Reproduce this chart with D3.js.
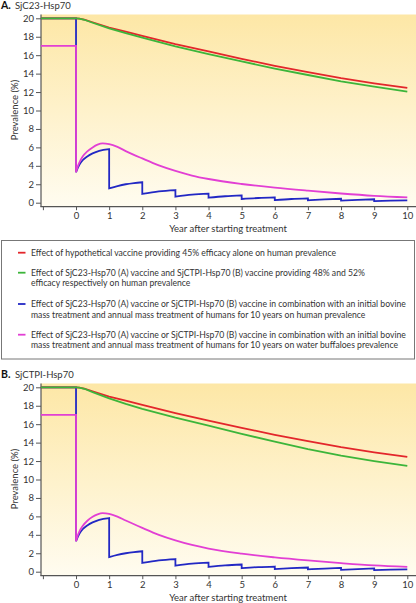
<!DOCTYPE html>
<html><head><meta charset="utf-8">
<script src="https://cdn.jsdelivr.net/npm/d3@7"></script>
<style>
body{margin:0;background:#fff;}
svg{display:block;font-family:Lato,"Open Sans",sans-serif;}
</style></head><body>
<svg id="c" width="416" height="603"></svg>
<script>
// ---------- data ----------
const xTicks = [-1,0,1,2,3,4,5,6,7,8,9,10];
const xTickLabels = ["","0","1","2","3","4","5","6","7","8","9","10"];
const yTicks = [0,2,4,6,8,10,12,14,16,18,20];

const smoothT = [-1.06,0,0.1,0.25,0.5,1,1.5,2,3,4,5,6,7,8,9,10];
const redA   = [20,20,19.97,19.86,19.57,19.0,18.55,18.1,17.2,16.4,15.6,14.85,14.15,13.5,12.95,12.45];
const greenA = [20,20,19.97,19.84,19.52,18.9,18.4,17.9,16.95,16.12,15.32,14.55,13.85,13.15,12.6,12.05];
const redB   = [20,20,19.97,19.86,19.57,19.0,18.55,18.1,17.2,16.38,15.6,14.85,14.15,13.5,12.95,12.46];
const greenB = [20,20,19.97,19.84,19.47,18.8,18.2,17.65,16.7,15.85,14.95,14.1,13.3,12.6,12.0,11.48];

const blueT = [-1.06,0, 0,0.05,0.1,0.2,0.35,0.5,0.7,1, 1,1.25,1.5,1.75,2, 2,2.5,3, 3,3.5,4, 4,4.5,5, 5,5.5,6, 6,6.5,7, 7,7.5,8, 8,8.5,9, 9,9.5,10];
const blueA = [20,20, 3.3,3.75,4.1,4.6,5.05,5.35,5.62,5.8, 1.55,1.8,2.0,2.13,2.22, 0.95,1.22,1.37, 0.66,0.87,0.98, 0.54,0.7,0.8, 0.4,0.51,0.58, 0.29,0.4,0.47, 0.26,0.36,0.43, 0.22,0.31,0.37, 0.18,0.23,0.26];
const blueB = [20,20, 3.3,3.75,4.1,4.6,5.05,5.35,5.63,5.82, 1.58,1.82,2.0,2.13,2.22, 0.95,1.22,1.37, 0.66,0.87,0.98, 0.52,0.68,0.78, 0.38,0.5,0.56, 0.28,0.38,0.45, 0.25,0.34,0.41, 0.2,0.29,0.35, 0.17,0.22,0.25];

const magT  = [-1.06,0, 0,0.05,0.1,0.2,0.35,0.5,0.65,0.8,1,1.25,1.5,2,2.5,3,3.5,4,5,6,7,8,9,10];
const magA  = [17,17, 3.3,3.9,4.35,5.0,5.6,6.0,6.3,6.43,6.35,6.05,5.6,4.8,4.05,3.45,2.95,2.57,2.03,1.63,1.3,1.0,0.75,0.58];
const magB  = [17,17, 3.3,3.9,4.35,4.95,5.55,5.95,6.22,6.35,6.28,5.98,5.55,4.75,4.0,3.4,2.9,2.5,1.95,1.55,1.22,0.93,0.68,0.52];

const colors = {red:"#e3262b", green:"#3cb53a", blue:"#2228c4", magenta:"#e23fd4"};

const legendItems = [
  {c:"red", lines:["Effect of hypothetical vaccine providing 45% efficacy alone on human prevalence"]},
  {c:"green", lines:["Effect of SjC23-Hsp70 (A) vaccine and SjCTPI-Hsp70 (B) vaccine providing 48% and 52%","efficacy respectively on human prevalence"]},
  {c:"blue", lines:["Effect of SjC23-Hsp70 (A) vaccine or SjCTPI-Hsp70 (B) vaccine in combination with an initial bovine","mass treatment and annual mass treatment of humans for 10 years on human prevalence"]},
  {c:"magenta", lines:["Effect of SjC23-Hsp70 (A) vaccine or SjCTPI-Hsp70 (B) vaccine in combination with an initial bovine","mass treatment and annual mass treatment of humans for 10 years on water buffaloes prevalence"]}
];

const panels = [
  {letter:"A.", title:"SjC23-Hsp70", off:0, red:redA, green:greenA, blue:blueA, mag:magA},
  {letter:"B.", title:"SjCTPI-Hsp70", off:369, red:redB, green:greenB, blue:blueB, mag:magB}
];

// ---------- drawing ----------
const svg = d3.select("#c");
const defs = svg.append("defs");
const grad = defs.append("linearGradient").attr("id","bg").attr("x1",0).attr("y1",0).attr("x2",0).attr("y2",1);
grad.append("stop").attr("offset","0%").attr("stop-color","#fde7a6");
grad.append("stop").attr("offset","100%").attr("stop-color","#fffcf0");

const x = d3.scaleLinear().domain([-1,10]).range([42.9,407.3]);
const axisColor = "#555";
const textColor = "#333";

function segPath(ts, vs, y){
  const segs=[]; let cur=[];
  ts.forEach((t,i)=>{
    if(i>0 && t===ts[i-1]){ segs.push(cur); cur=[]; }
    cur.push([t,vs[i]]);
  });
  segs.push(cur);
  const line = d3.line().x(d=>x(d[0])).y(d=>y(d[1]));
  let d="";
  segs.forEach((s,k)=>{
    line.curve(s[0][0]<0 ? d3.curveLinear : d3.curveMonotoneX);
    let p=line(s);
    if(k>0) p="L"+p.slice(1);
    d+=p;
  });
  return d;
}

panels.forEach(p=>{
  const o=p.off;
  const y = d3.scaleLinear().domain([0,20]).range([202.7+o,18.3+o]);
  const g = svg.append("g");
  const axisY = 206.7+o;
  const left = 41;
  g.append("rect").attr("x",left).attr("y",14.5+o).attr("width",416-left).attr("height",axisY-14.5-o).attr("fill","url(#bg)");

  // title
  g.append("text").attr("x",1).attr("y",9+o).attr("font-size",10.5).attr("font-weight","bold").attr("fill","#111").text(p.letter);
  g.append("text").attr("x",15).attr("y",9+o).attr("font-size",9.5).attr("fill",textColor).text(p.title);

  // y axis
  const ya = g.append("g").attr("transform",`translate(${left},0)`)
    .call(d3.axisLeft(y).tickValues(yTicks).tickSize(5).tickPadding(2));
  ya.select(".domain").remove();
  ya.selectAll("line").attr("stroke",axisColor);
  ya.selectAll("text").attr("font-size",9.5).attr("font-family","Lato").attr("fill",textColor);
  g.append("line").attr("x1",left).attr("x2",left).attr("y1",14.5+o).attr("y2",axisY).attr("stroke",axisColor).attr("stroke-width",1.2);

  // x axis
  const xa = g.append("g").attr("transform",`translate(0,${axisY})`)
    .call(d3.axisBottom(x).tickValues(xTicks).tickFormat((d,i)=>xTickLabels[i]).tickSize(3.5).tickPadding(2));
  xa.select(".domain").remove();
  xa.selectAll("line").attr("stroke",axisColor);
  xa.selectAll("text").attr("font-size",9.5).attr("font-family","Lato").attr("fill",textColor);
  g.append("line").attr("x1",left-0.6).attr("x2",416).attr("y1",axisY).attr("y2",axisY).attr("stroke",axisColor).attr("stroke-width",1.2);

  // axis labels
  g.append("text").attr("transform",`translate(18,${110+o}) rotate(-90)`).attr("text-anchor","middle").attr("font-size",9.5).attr("fill",textColor).text("Prevalence (%)");
  g.append("text").attr("x",228).attr("y",231.5+o).attr("text-anchor","middle").attr("font-size",9.5).attr("fill",textColor).text("Year after starting treatment");

  // series
  const sw=1.8;
  g.append("path").attr("d",segPath(blueT,p.blue,y)).attr("fill","none").attr("stroke",colors.blue).attr("stroke-width",sw);
  g.append("path").attr("d",segPath(magT,p.mag,y)).attr("fill","none").attr("stroke",colors.magenta).attr("stroke-width",sw);
  g.append("path").attr("d",segPath(smoothT,p.red,y)).attr("fill","none").attr("stroke",colors.red).attr("stroke-width",sw);
  g.append("path").attr("d",segPath(smoothT,p.green,y)).attr("fill","none").attr("stroke",colors.green).attr("stroke-width",sw);
});

// legend
const lg = svg.append("g");
lg.append("rect").attr("x",1.5).attr("y",240.5).attr("width",413).attr("height",118.5).attr("fill","#fff").attr("stroke","#777").attr("stroke-width",1);
const rowY = [252.7, 272.7, 304, 334.7];
legendItems.forEach((it,i)=>{
  lg.append("line").attr("x1",18).attr("x2",25.5).attr("y1",rowY[i]).attr("y2",rowY[i]).attr("stroke",colors[it.c]).attr("stroke-width",1.8);
  it.lines.forEach((t,j)=>{
    lg.append("text").attr("x",31).attr("y",rowY[i]+3+j*10.5).attr("font-size",8.65).attr("fill",textColor).text(t);
  });
});
</script>
</body></html>
